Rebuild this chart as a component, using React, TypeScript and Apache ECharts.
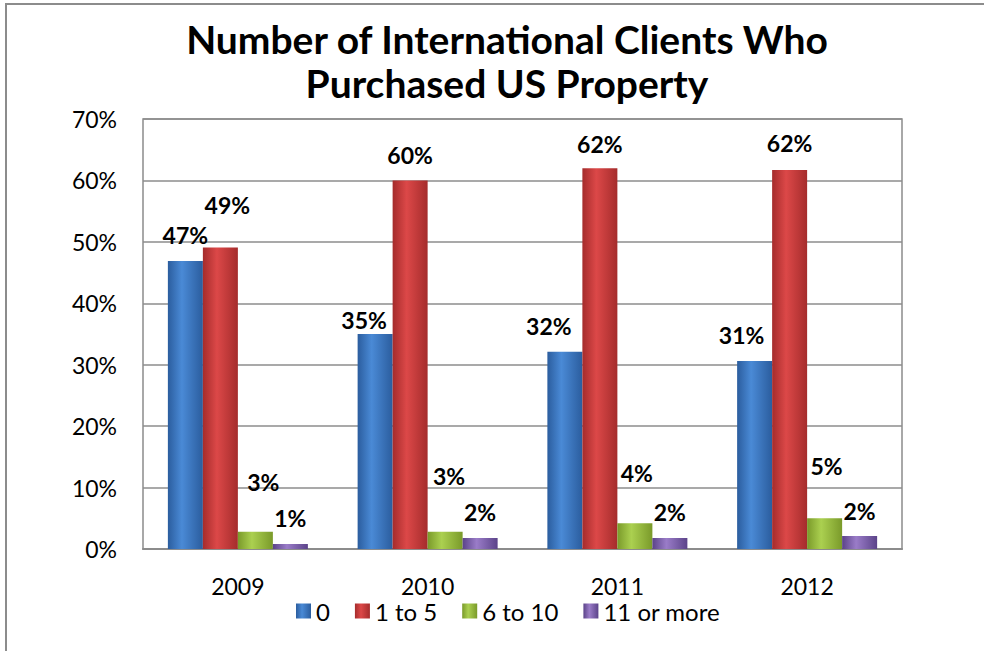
import React, { useEffect, useRef } from "react";
import * as echarts from "echarts";

const categories = ["2009", "2010", "2011", "2012"];
const seriesNames = ["0", "1 to 5", "6 to 10", "11 or more"];
const zeroClients = [46.9, 35.0, 32.1, 30.6];
const oneToFive = [49.1, 60.0, 62.0, 61.7];
const sixToTen = [2.8, 2.8, 4.2, 5.0];
const elevenOrMore = [0.8, 1.8, 1.8, 2.1];
const yTicks = { min: 0, max: 70, interval: 10 };
const titleLines = ["Number of International Clients Who", "Purchased US Property"];

// label nudges [dx, dy] per series per category (layout only)
const labelNudge = [
  [[0, 0], [-11, 11], [-16, 0], [-13, -1]],
  [[7, -17], [0, 0], [0, 1], [0, -1]],
  [[8, -24], [4, -30], [2, -25], [2, -27]],
  [[0, -1], [0, 0], [0, 0], [0, 0]],
];

const palettes = [
  { dark: "#2b5d9e", light: "#4a8ad6" },
  { dark: "#a52c2c", light: "#dc4848" },
  { dark: "#7a9a2a", light: "#abd050" },
  { dark: "#5b4389", light: "#9a7cc8" },
];

const FONT = "Lato, 'Noto Sans', sans-serif";

export default function App() {
  const ref = useRef<HTMLDivElement>(null);
  useEffect(() => {
    if (!ref.current) return;
    const chart = echarts.init(ref.current, null, { renderer: "svg" });
    const values = [zeroClients, oneToFive, sixToTen, elevenOrMore];
    const grad = (i: number) =>
      new echarts.graphic.LinearGradient(0, 0, 1, 0, [
        { offset: 0, color: palettes[i].dark },
        { offset: 0.4, color: palettes[i].light },
        { offset: 1, color: palettes[i].dark },
      ]);
    const series = values.map((vals, si) => ({
      name: seriesNames[si],
      type: "bar",
      barWidth: 35,
      barGap: "0%",
      itemStyle: { color: grad(si) },
      label: {
        show: true,
        position: "top",
        distance: 14,
        fontFamily: FONT,
        fontWeight: "bold",
        fontSize: 23,
        color: "#000",
        formatter: (p: any) => Math.round(p.value) + "%",
      },
      data: vals.map((v, ci) => ({
        value: v,
        label: { offset: labelNudge[si][ci] },
      })),
    }));
    chart.setOption({
      animation: false,
      backgroundColor: "#fff",
      legend: {
        data: seriesNames,
        left: 291,
        top: 594,
        itemWidth: 15,
        itemHeight: 15,
        itemGap: 25,
        icon: "rect",
        textStyle: { fontFamily: FONT, fontSize: 24, color: "#000" },
      },
      grid: {
        left: 143,
        right: 82,
        top: 119,
        bottom: 102,
        show: true,
        borderColor: "#8c8c8c",
        borderWidth: 1.5,
        containLabel: false,
      },
      xAxis: {
        type: "category",
        data: categories,
        axisTick: { show: false },
        axisLine: { show: true, lineStyle: { color: "#8c8c8c", width: 2 } },
        axisLabel: { fontFamily: FONT, fontSize: 23, color: "#000", margin: 25 },
      },
      yAxis: {
        type: "value",
        min: yTicks.min,
        max: yTicks.max,
        interval: yTicks.interval,
        axisLine: { show: false },
        axisTick: { show: false },
        splitLine: { lineStyle: { color: "#8c8c8c", width: 1.5 } },
        axisLabel: {
          fontFamily: FONT,
          fontSize: 23,
          color: "#000",
          margin: 26,
          formatter: "{value}%",
        },
      },
      graphic: [
        {
          type: "rect",
          shape: { x: 6, y: 4, width: 1000, height: 700 },
          style: { fill: "none", stroke: "#8c8c8c", lineWidth: 2 },
          silent: true,
        },
        {
          type: "text",
          x: 507,
          y: 17,
          silent: true,
          style: {
            text: titleLines.join("\n"),
            textAlign: "center",
            fontFamily: FONT,
            fontWeight: "bold",
            fontSize: 39,
            lineHeight: 44,
            fill: "#000",
          },
        },
      ],
      series,
    });
    return () => chart.dispose();
  }, []);
  return (
    <div
      ref={ref}
      style={{ position: "fixed", left: 0, top: 0, width: 984, height: 651 }}
    />
  );
}
